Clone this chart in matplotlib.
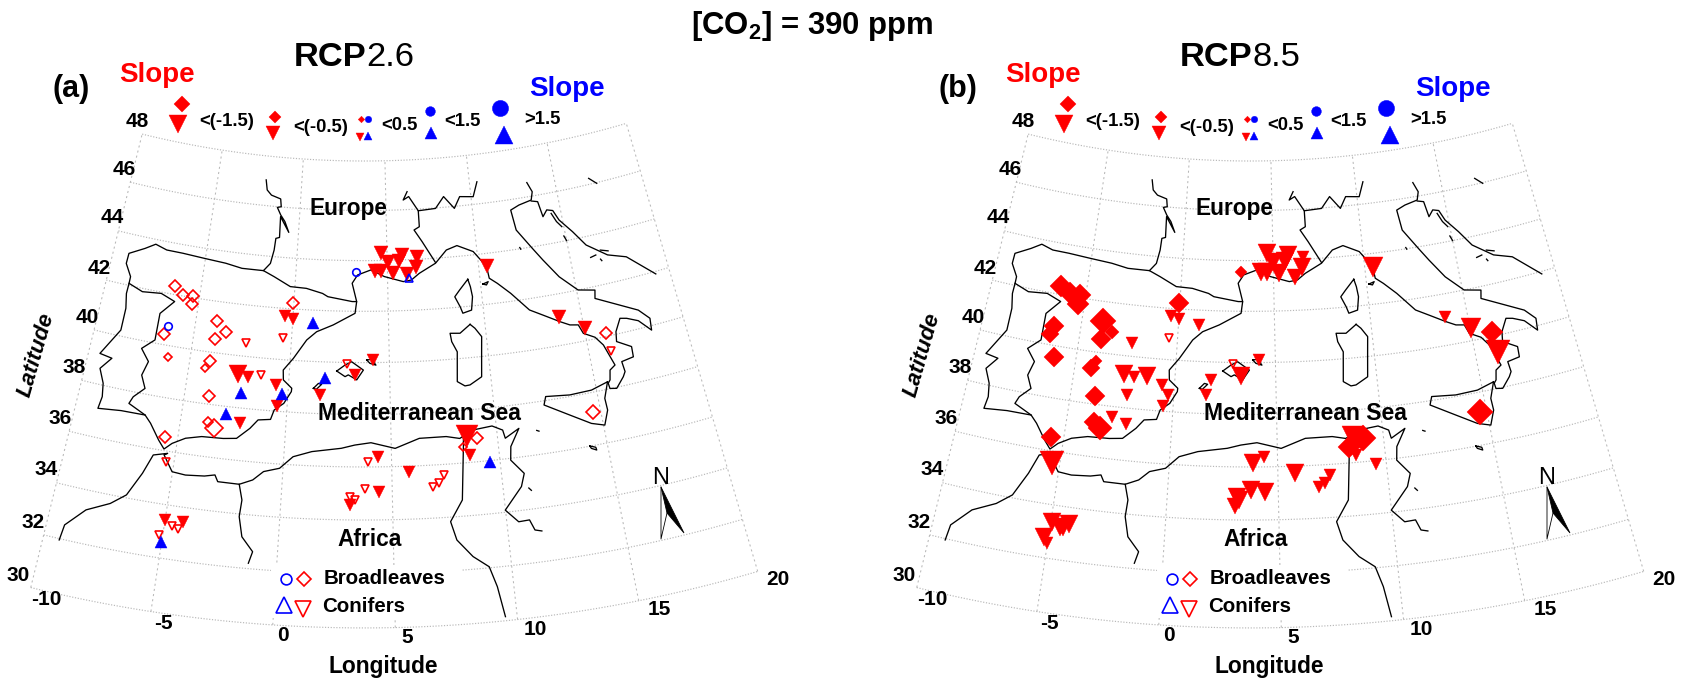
import numpy as np
import matplotlib
matplotlib.use('Agg')
import matplotlib.pyplot as plt
from matplotlib.patches import Polygon, Rectangle

plt.rcParams['font.family'] = ['Liberation Sans', 'DejaVu Sans']
plt.rcParams['mathtext.default'] = 'regular'

# ---------- graticule ----------
grid_lats = [48, 46, 44, 42, 40, 38, 36, 34, 32, 30]
grid_lons = [-10, -5, 0, 5, 10, 15, 20]

# ---------- coast and border lines (lon, lat) ----------
west_coast = [(-2.13,47.03),(-2.01,46.63),(-1.73,46.44),(-1.17,46.32),(-1.1,46.01),(-1.32,45.97),(-1.09,45.68),(-0.82,45.43),(-0.55,45.01),(-1.09,45.61),(-1.05,44.78),(-1.25,44.73),(-1.29,44.26),(-1.43,43.72),(-1.77,43.41),(-2.95,43.41),(-3.86,43.53),(-5.06,43.6),(-6.27,43.66),(-7.17,43.67),(-7.82,43.81),(-8.35,43.56),(-9.15,43.23),(-9.17,42.82),(-8.79,42.35),(-8.79,42.08),(-8.81,41.67),(-8.67,41.1),(-8.68,40.23),(-9.44,39.17),(-8.81,39.09),(-9.27,38.61),(-8.96,38.08),(-8.86,37.57),(-8.94,37.1),(-7.85,37.2),(-6.69,37.21),(-6.37,36.94),(-5.86,36.36),(-5.55,36.06),(-5.22,36.32),(-4.64,36.59),(-3.9,36.74),(-2.89,36.77),(-2.27,36.83),(-1.69,37.26),(-1.34,37.61),(-0.75,37.67),(-0.61,38.04),(-0.17,38.32),(0.16,38.79),(0.17,38.92),(-0.27,39.22),(-0.31,39.6),(0.16,40.08),(0.78,40.82),(1.27,41.16),(2.12,41.45),(3.25,41.92),(3.33,42.38),(3.08,43.1),(3.37,43.43),(4.1,43.63),(4.83,43.36),(5.85,43.14),(6.29,43.19),(6.74,43.44),(7.66,43.8),(8.31,44.29),(8.92,44.43),(9.79,44.13),(10.43,43.48),(10.5,43.01),(10.9,42.77),(11.54,42.31),(12.39,41.56),(13.04,41.28),(13.86,40.91),(14.32,40.72),(14.74,40.66),(14.91,40.3),(15.45,40.06),(15.78,39.7),(16.13,38.85),(15.84,38.7),(15.74,38.33),(15.62,38.22),(15.65,38.01),(15.97,37.96),(16.4,38.34),(16.54,38.52),(16.49,38.92),(17.1,39.0),(17.13,39.4),(16.46,39.72),(16.54,40.1),(16.89,40.57),(17.22,40.51),(17.77,40.31),(18.3,39.83),(18.37,40.29),(17.9,40.71),(15.86,41.54),(15.95,41.86),(15.08,42.0),(14.23,42.65),(13.53,43.41),(13.06,43.94),(12.33,44.76),(12.19,45.58),(12.7,45.73),(13.45,45.85),(13.59,46.17),(13.37,46.57)]
pyrenees = [(-1.77,43.41),(-1.16,43.21),(-0.25,42.87),(0.62,42.84),(1.5,42.67),(1.79,42.55),(3.09,42.38),(3.32,42.38)]
alps = [(6.27,46.72),(6.02,46.39),(6.35,46.52),(6.87,45.93),(7.88,45.98),(8.4,46.43),(8.97,45.92),(9.34,46.37),(10.13,46.31),(10.45,46.89)]
alps_south = [(6.87,45.93),(6.88,45.29),(6.57,45.17),(6.99,44.69),(7.66,43.83)]
portugal_border = [(-8.79,42.08),(-8.01,41.87),(-7.02,41.95),(-6.25,41.73),(-6.89,41.17),(-6.89,40.12),(-7.47,39.7),(-7.01,39.25),(-7.21,38.69),(-6.93,38.21),(-7.41,37.81),(-7.55,37.53),(-6.69,37.21)]
istria = [(13.44,45.81),(13.8,45.74),(13.95,45.11),(14.23,45.35),(14.56,45.28),(14.81,44.86),(15.42,44.3),(16.0,43.67),(17.02,43.1),(17.98,42.85),(19.26,41.9)]
istria_b = [(14.44,45.18),(14.65,44.82),(14.89,44.58)]
slovenia = [(16.98,46.24),(17.37,45.97)]
africa_coast = [(-9.31,31.95),(-9.23,32.54),(-8.47,33.26),(-7.49,33.68),(-6.86,34.11),(-6.33,35.02),(-5.99,35.77),(-5.35,35.92),(-5.5,35.84),(-5.02,35.26),(-4.4,35.21),(-3.54,35.27),(-3.07,35.36),(-2.91,35.12),(-1.93,35.11),(-1.34,35.32),(-0.88,35.67),(-0.16,35.84),(0.43,36.31),(1.29,36.54),(2.66,36.7),(3.29,36.83),(4.05,36.92),(5.18,36.69),(6.33,37.04),(7.6,37.05),(8.23,36.94),(8.89,37.22),(9.8,37.3),(10.28,37.1),(10.36,36.78),(11.05,37.09),(10.57,36.44),(10.49,35.93),(11.03,35.37),(10.83,34.89),(9.99,34.08),(10.52,33.59),(11.0,33.61),(11.18,33.21),(11.47,33.14)]
morocco_border = [(-1.93,35.11),(-1.74,34.53),(-1.79,33.9),(-1.59,33.16),(-1.07,32.64),(-1.21,32.2)]
tunisia_border = [(8.41,37.0),(8.37,36.62),(8.13,34.61),(7.54,33.83),(7.76,33.13),(8.4,32.47),(9.05,32.04),(9.31,31.28),(9.52,30.15)]
sicily = [(15.6,38.28),(14.76,38.09),(13.69,38.06),(12.53,38.15),(12.39,37.84),(13.53,37.3),(14.46,36.84),(15.06,36.68),(15.33,37.22),(15.31,37.68),(15.6,38.28)]
corsica = [(9.34,43.06),(8.85,42.67),(8.56,42.42),(8.8,42.01),(8.91,41.75),(9.38,41.84),(9.5,42.36),(9.44,42.76),(9.34,43.06)]
sardinia = [(9.23,41.29),(8.67,40.98),(8.16,41.01),(8.21,40.68),(8.45,40.27),(8.33,39.12),(8.69,38.93),(8.94,38.95),(9.55,39.22),(9.66,40.06),(9.76,40.77),(9.46,41.12),(9.23,41.29)]
mallorca = [(2.36,39.66),(2.77,39.9),(3.1,40.03),(3.69,39.71),(3.36,39.33),(2.94,39.52),(2.78,39.45),(2.36,39.66)]
menorca = [(3.86,40.1),(4.11,40.13),(4.32,39.9),(4.02,39.97),(3.86,40.1)]
ibiza = [(1.23,38.96),(1.47,39.16),(1.63,39.13),(1.38,38.93),(1.23,38.96)]
pantelleria = [(14.19,36.01),(14.45,35.92),(14.47,35.81),(14.24,35.91),(14.19,36.01)]
elba = [(10.12,42.81),(10.42,42.88),(10.31,42.76),(10.12,42.81)]
islet_a = [(14.9,44.2),(15.0,44.0)]
islet_b = [(16.1,43.15),(16.4,43.2)]
islet_c = [(16.7,43.35),(17.1,43.25)]
islet_d = [(16.6,43.0),(16.65,42.93)]
islet_e = [(12.38,44.05),(12.42,43.98)]
islet_f = [(11.15,34.8),(11.25,34.7)]
islet_g = [(11.87,36.92),(11.97,36.88)]
all_lines = [west_coast, pyrenees, alps, alps_south, portugal_border, istria, istria_b, slovenia,
             africa_coast, morocco_border, tunisia_border, sicily, corsica, sardinia, mallorca,
             menorca, ibiza, pantelleria, elba, islet_a, islet_b, islet_c, islet_d, islet_e,
             islet_f, islet_g]

# ---------- sites: (lon, lat, marker width) ----------
a_bl_open = [(-6.39,42.34,12),(-5.89,42.05,12),(-5.37,42.06,12),(16.03,40.15,12),(-5.32,41.75,12),(-0.03,42.22,12),(-3.9,41.25,12),(-3.4,40.84,12),(-3.91,40.54,12),(-6.5,40.42,11),(-6.09,39.55,8),(-4.0,39.67,12),(-4.19,39.35,8),(-3.8,38.33,12),(-3.7,37.33,9),(-3.38,37.11,17),(-5.59,36.52,12),(14.65,37.24,13),(9.06,36.91,12),(8.37,36.62,8)]
a_co_fill = [(4.68,44.28,13),(5.06,43.95,13),(5.84,44.2,13),(5.65,43.97,13),(6.64,44.1,13),(6.55,43.71,13),(6.07,43.44,13),(5.28,43.51,13),(4.63,43.6,13),(4.34,43.6,13),(10.46,43.5,13),(13.85,41.11,13),(15.05,40.5,13),(-0.42,41.7,12),(-0.01,41.61,12),(-2.52,39.29,17),(-2.01,39.2,12),(-0.61,39.0,12),(4.16,40.11,12),(3.27,39.52,12),(1.59,38.72,12),(-0.51,38.21,12),(-2.19,37.41,12),(4.37,36.39,12),(5.79,35.77,12),(4.4,35.06,12),(3.1,34.56,12),(8.66,36.28,12),(8.56,37.01,20),(-5.0,33.43,12),(-4.2,33.44,12)]
a_co_open = [(-2.3,40.53,8),(-0.42,40.83,8),(-1.41,39.33,8),(2.87,39.93,8),(3.9,36.2,8),(7.36,35.6,8),(7.14,35.3,8),(6.86,35.18,8),(3.77,35.18,8),(3.09,34.87,8),(3.34,34.75,8),(-5.38,35.6,8),(-4.66,33.26,8),(-4.38,33.15,8),(-5.18,32.84,8),(16.1,39.42,8)]
a_up_fill = [(1.08,41.48,12),(1.8,39.39,12),(-2.3,38.59,12),(-0.3,38.67,12),(-2.9,37.7,12),(9.55,35.96,12),(-5.02,32.61,12)]
a_up_open = [(6.15,43.29,7)]
a_circ_open = [(3.28,43.55,7),(-6.39,40.75,7)]
b_bl_fill = [(3.25,43.53,11),(-6.39,42.34,20),(-5.85,42.11,20),(-5.33,42.11,20),(16.04,40.16,20),(-5.32,41.75,20),(-0.03,42.25,18),(-3.9,41.25,24),(-3.4,40.84,13),(-3.91,40.54,18),(-6.38,40.74,18),(-6.5,40.42,17),(-6.09,39.55,18),(-4.0,39.67,12),(-4.19,39.35,17),(-3.8,38.33,18),(-3.7,37.33,18),(-3.38,37.11,22),(-5.59,36.52,18),(14.66,37.25,24),(9.06,36.91,24),(8.37,36.62,20)]
b_co_fill = [(4.68,44.28,17),(5.0,43.95,17),(5.84,44.2,17),(5.65,43.97,17),(6.64,44.1,12),(6.55,43.71,16),(6.15,43.33,14),(5.28,43.48,17),(4.63,43.56,17),(4.34,43.56,17),(10.46,43.47,18),(13.85,41.11,12),(15.04,40.48,18),(-0.42,41.7,12),(-0.01,41.61,12),(1.08,41.42,12),(-2.3,40.5,12),(-2.52,39.29,17),(-2.01,39.2,12),(-1.41,39.3,17),(-0.61,39.0,12),(-0.3,38.64,11),(-0.51,38.21,11),(-2.29,38.5,12),(1.79,39.3,12),(1.59,38.72,12),(4.16,40.11,12),(3.27,39.48,17),(-2.88,37.58,12),(-2.19,37.39,12),(16.12,39.38,22),(3.87,36.16,17),(4.37,36.39,12),(5.77,35.75,17),(7.36,35.6,11),(7.14,35.3,11),(6.86,35.18,11),(3.79,35.13,17),(4.4,35.04,17),(3.12,34.87,17),(3.22,34.75,17),(3.07,34.52,15),(8.66,36.28,11),(8.56,36.99,20),(9.54,35.88,11),(-5.37,35.53,22),(-4.97,33.37,17),(-4.21,33.36,17),(-4.59,33.23,17),(-4.41,33.15,13),(-5.19,32.77,17),(-5.01,32.55,12)]
b_co_open = [(-0.42,40.83,8),(2.87,39.93,8)]

panel_titles = [('(a)', 'RCP', '2.6'), ('(b)', 'RCP', '8.5')]
legend_bins = ['<(-1.5)', '<(-0.5)', '<0.5', '<1.5', '>1.5']

RED, BLUE = '#ff0000', '#0000ff'
PX = 0.72      # points per pixel at dpi 100
SCALE = 1.08   # marker scale

# Conic map projection fitted to the reference graticule (output in figure pixels)
APEX_X, APEX_Y = 364.3, -770.0
def proj(lon, lat, dx=0):
    lon = np.asarray(lon, float); lat = np.asarray(lat, float)
    u = 48.0 - lat
    r = 931 + 25.94 * u - 0.074 * u * (18 - u)
    a = np.radians(1.005 * (lon - 5) + 1.27)
    return APEX_X + r * np.sin(a) + dx, APEX_Y + r * np.cos(a)

fig = plt.figure(figsize=(16.86, 6.8), dpi=100)
ax = fig.add_axes([0, 0, 1, 1])
ax.set_xlim(0, 1686); ax.set_ylim(680, 0); ax.axis('off')

def mark(sites, m, color, filled, dx, z=4):
    for lon, lat, w in sites:
        x, y = proj(lon, lat, dx)
        ms = SCALE * w * PX / (np.sqrt(2) if m == 'D' else 1)
        ax.plot([x], [y], m, ms=ms, mfc=color if filled else 'none', mec=color,
                mew=(0.3 if filled else 1.2), zorder=z)

def legend_mark(x, y, m, color, w, dx, filled=True):
    ms = SCALE * w * PX / (np.sqrt(2) if m == 'D' else 1)
    ax.plot([x + dx], [y], m, ms=ms, mfc=color if filled else 'none', mec=color,
            mew=(0.3 if filled else 1.2), zorder=6)

lat_label_off = [(-5, -13), (-6, -13), (-6, -13), (-7, -12), (-7, -12), (-8, -13), (-9, -13), (-10, -13), (-11, -12), (-13, -12)]
lon_label_off = [(16, 12), (13, 12), (10, 11), (12, 10), (18, 10), (21, 9), (20, 8)]

for dx, (tag, rcp, val) in zip([0, 886], panel_titles):
    # graticule
    lon_s = np.linspace(-10, 20, 121)
    for lat in grid_lats:
        x, y = proj(lon_s, np.full_like(lon_s, lat), dx)
        ax.plot(x, y, color='#b8b8b8', lw=0.85, ls=(0, (1, 1.4)), zorder=1)
    lat_s = np.linspace(30, 48, 73)
    for lon in grid_lons:
        x, y = proj(np.full_like(lat_s, lon), lat_s, dx)
        ax.plot(x, y, color='#b8b8b8', lw=0.75, ls=(0, (2, 3)), zorder=1)
    # tick labels
    for lat, off in zip(grid_lats, lat_label_off):
        x, y = proj(-10, lat, dx)
        ax.text(x + off[0], y + off[1], str(lat), fontsize=15, fontweight='bold', ha='center', va='center', zorder=7)
    for lon, off in zip(grid_lons, lon_label_off):
        x, y = proj(lon, 30, dx)
        ax.text(x + off[0], y + off[1], str(lon), fontsize=15, fontweight='bold', ha='center', va='center', zorder=7)
    # coast lines
    for line in all_lines:
        lo, la = zip(*line)
        x, y = proj(lo, la, dx)
        ax.plot(x, y, color='black', lw=0.95, zorder=2, solid_joinstyle='round')
    # white box of the marker key
    ax.add_patch(Rectangle((271 + dx, 565), 191, 53, fc='white', ec='none', zorder=3))
    # names
    ax.text(348 + dx, 209, 'Europe', fontsize=16.3, fontweight='bold', ha='center', va='center', zorder=7)
    ax.text(419 + dx, 414, 'Mediterranean Sea', fontsize=16.5, fontweight='bold', ha='center', va='center', zorder=7)
    ax.text(370 + dx, 540, 'Africa', fontsize=16.4, fontweight='bold', ha='center', va='center', zorder=7)
    ax.text(383 + dx, 667, 'Longitude', fontsize=16.4, fontweight='bold', ha='center', va='center', zorder=7)
    ax.text(36 + dx, 355, 'Latitude', fontsize=16, fontweight='bold', style='italic', rotation=74,
            ha='center', va='center', zorder=7)
    ax.text(71.5 + dx, 89, tag, fontsize=22, fontweight='bold', ha='center', va='center', zorder=7)
    ax.text(366 + dx, 57, rcp, fontsize=24.8, fontweight='bold', ha='right', va='center', zorder=7)
    ax.text(366 + dx, 57, val, fontsize=24.8, ha='left', va='center', zorder=7)
    ax.text(156.5 + dx, 75, 'Slope', fontsize=20, fontweight='bold', color=RED, ha='center', va='center', zorder=7)
    ax.text(567 + dx, 89, 'Slope', fontsize=20, fontweight='bold', color=BLUE, ha='center', va='center', zorder=7)
    # slope key
    for (lx, ly, m, c, w) in [(182, 104, 'D', RED, 15), (178, 124, 'v', RED, 16),
                              (275, 117, 'D', RED, 11), (273, 133, 'v', RED, 13),
                              (361, 119, 'D', RED, 6), (368, 119, 'o', BLUE, 6),
                              (360, 137, 'v', RED, 8), (368, 136, '^', BLUE, 7),
                              (430, 111, 'o', BLUE, 9), (431, 133, '^', BLUE, 12),
                              (500, 108, 'o', BLUE, 15), (504, 135, '^', BLUE, 17)]:
        legend_mark(lx, ly, m, c, w, dx)
    for lx, ly, t in zip([227, 321, 399, 462, 542], [121, 127, 125, 122, 120], legend_bins):
        ax.text(lx + dx, ly, t, fontsize=13.3, fontweight='bold', ha='center', va='center', zorder=7)
    # form key
    legend_mark(286, 579, 'o', BLUE, 10, dx, False)
    legend_mark(304, 579, 'D', RED, 13, dx, False)
    legend_mark(284, 605, '^', BLUE, 15, dx, False)
    legend_mark(303, 609, 'v', RED, 15, dx, False)
    ax.text(324 + dx, 579, 'Broadleaves', fontsize=14.8, fontweight='bold', ha='left', va='center', zorder=7)
    ax.text(322.6 + dx, 607, 'Conifers', fontsize=14.8, fontweight='bold', ha='left', va='center', zorder=7)
    # north arrow
    ax.text(661 + dx, 478, 'N', fontsize=17, ha='center', va='center', zorder=7)
    ax.add_patch(Polygon([(661 + dx, 487), (684 + dx, 533), (667 + dx, 513)], fc='black', ec='black', lw=0.6, zorder=5))
    ax.plot([661 + dx, 661 + dx, 667 + dx], [487, 539, 513], color='black', lw=0.6, zorder=5)

mark(a_bl_open, 'D', RED, False, 0)
mark(a_co_open, 'v', RED, False, 0)
mark(a_co_fill, 'v', RED, True, 0)
mark(a_up_fill, '^', BLUE, True, 0)
mark(a_up_open, '^', BLUE, False, 0)
mark(a_circ_open, 'o', BLUE, False, 0)
mark(b_bl_fill, 'D', RED, True, 886)
mark(b_co_fill, 'v', RED, True, 886)
mark(b_co_open, 'v', RED, False, 886, z=5)

ax.text(812, 26, '[CO$_{2}$] = 390 ppm', fontsize=22.4, fontweight='bold', ha='center', va='center', zorder=7)

fig.savefig('out.png', dpi=100)
